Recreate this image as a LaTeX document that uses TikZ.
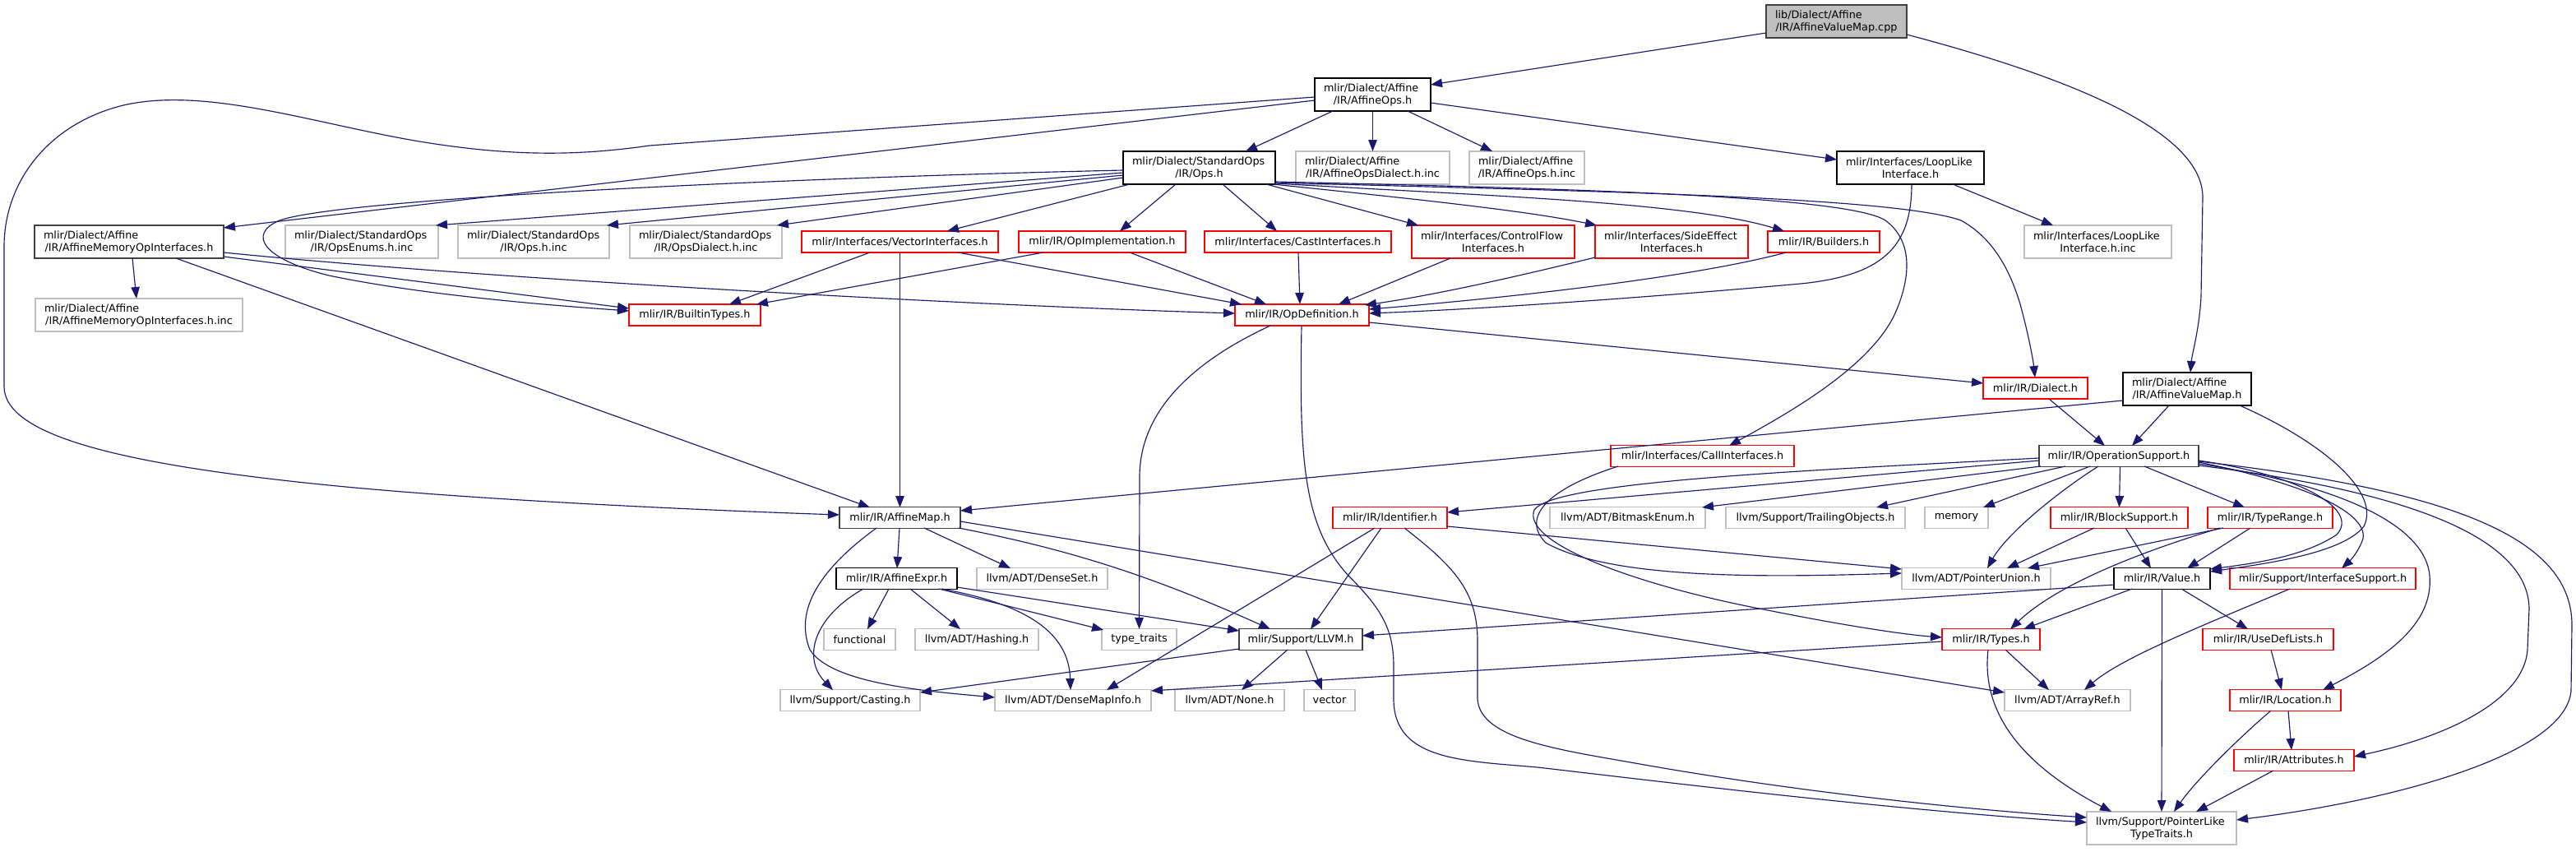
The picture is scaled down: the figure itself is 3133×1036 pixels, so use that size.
\documentclass[tikz,border=0pt]{standalone}
\usepackage{fontspec}
\setmainfont{DejaVu Sans}
\usetikzlibrary{arrows.meta,calc}
\definecolor{edgeblue}{HTML}{191970}
\definecolor{greyS}{HTML}{BFBFBF}
\definecolor{darkS}{HTML}{404040}
\definecolor{redS}{HTML}{FF0000}
\newcommand\twol[3]{\makebox[#3pt][l]{#1}\\\makebox[#3pt][c]{#2}}
\begin{document}
\begin{tikzpicture}[x=1pt,y=-1pt,
  box/.style={draw, line width=1.2pt, inner sep=0pt, fill=white, text=black, align=center, font=\fontsize{12.8}{15}\selectfont},
  one/.style={box, minimum height=26pt, minimum width=#1pt},
  two/.style={box, minimum height=40pt, minimum width=#1pt},
  blk/.style={draw=black},
  drk/.style={draw=darkS},
  trn/.style={draw=redS},
  ext/.style={draw=greyS},
  rootS/.style={draw=darkS, fill=greyS},
  conn/.style={draw=edgeblue, line width=1.15pt, -{Triangle[length=14pt,width=10.5pt]}},
]
\fill[white] (0,0) rectangle (3133,1036);
\path[use as bounding box] (0,0) rectangle (3133,1036);

% ---------- nodes ----------
\node[two=171, rootS] (root) at (2233.5,26) {\twol{lib/Dialect/Affine}{/IR/AffineValueMap.cpp}{149}};
\node[two=141, blk] (affops) at (1669.5,115) {\twol{mlir/Dialect/Affine}{/IR/AffineOps.h}{119}};
\node[two=185, blk] (stdops) at (1458.5,204) {\twol{mlir/Dialect/StandardOps}{/IR/Ops.h}{163}};
\node[two=187, ext] (affopsdinc) at (1669.5,204) {\twol{mlir/Dialect/Affine}{/IR/AffineOpsDialect.h.inc}{165}};
\node[two=140, ext] (affopsinc) at (1857,204) {\twol{mlir/Dialect/Affine}{/IR/AffineOps.h.inc}{118}};
\node[two=179, blk] (looplike) at (2323.5,204) {\twol{mlir/Interfaces/LoopLike}{Interface.h}{157}};
\node[two=179, ext] (looplikeinc) at (2551.5,294) {\twol{mlir/Interfaces/LoopLike}{Interface.h.inc}{157}};
\node[two=230, drk] (affmem) at (157,294) {\twol{mlir/Dialect/Affine}{/IR/AffineMemoryOpInterfaces.h}{208}};
\node[two=186, ext] (opsenums) at (440,294) {\twol{mlir/Dialect/StandardOps}{/IR/OpsEnums.h.inc}{164}};
\node[two=184, ext] (opshinc) at (649,294) {\twol{mlir/Dialect/StandardOps}{/IR/Ops.h.inc}{162}};
\node[two=185, ext] (opsdial) at (858.5,294) {\twol{mlir/Dialect/StandardOps}{/IR/OpsDialect.h.inc}{163}};
\node[one=239, trn] (vecif) at (1094.5,294) {mlir/Interfaces/VectorInterfaces.h};
\node[one=203, trn] (opimpl) at (1340.5,294) {mlir/IR/OpImplementation.h};
\node[one=227, trn] (castif) at (1578.5,294) {mlir/Interfaces/CastInterfaces.h};
\node[two=198, trn] (cfif) at (1816,294) {\twol{mlir/Interfaces/ControlFlow}{Interfaces.h}{176}};
\node[two=186, trn] (seif) at (2033,294) {\twol{mlir/Interfaces/SideEffect}{Interfaces.h}{164}};
\node[one=136, trn] (builders) at (2218,294) {mlir/IR/Builders.h};
\node[two=252, ext] (affmeminc) at (169,383) {\twol{mlir/Dialect/Affine}{/IR/AffineMemoryOpInterfaces.h.inc}{230}};
\node[one=160, trn] (builtin) at (845,383) {mlir/IR/BuiltinTypes.h};
\node[one=163, trn] (opdef) at (1583.5,383) {mlir/IR/OpDefinition.h};
\node[one=127, trn] (dialect) at (2475.5,472) {mlir/IR/Dialect.h};
\node[two=156, blk] (affvm) at (2660,473) {\twol{mlir/Dialect/Affine}{/IR/AffineValueMap.h}{134}};
\node[one=223, trn] (callif) at (2070.5,554.5) {mlir/Interfaces/CallInterfaces.h};
\node[one=194, drk] (opsupp) at (2577,554.5) {mlir/IR/OperationSupport.h};
\node[one=147, drk] (affmap) at (1094.5,629.5) {mlir/IR/AffineMap.h};
\node[one=139, trn] (ident) at (1690.5,629.5) {mlir/IR/Identifier.h};
\node[one=189, ext] (bitmask) at (1979.5,629.5) {llvm/ADT/BitmaskEnum.h};
\node[one=218, ext] (trailing) at (2208,629.5) {llvm/Support/TrailingObjects.h};
\node[one=77, ext] (memory) at (2379.5,629.5) {memory};
\node[one=167, trn] (blocksupp) at (2577.5,629.5) {mlir/IR/BlockSupport.h};
\node[one=152, trn] (typerange) at (2761,629.5) {mlir/IR/TypeRange.h};
\node[one=147, blk] (affexpr) at (1090.5,703.5) {mlir/IR/AffineExpr.h};
\node[one=159, ext] (denseset) at (1267.5,703.5) {llvm/ADT/DenseSet.h};
\node[one=181, ext] (ptrunion) at (2403.5,703.5) {llvm/ADT/PointerUnion.h};
\node[one=117, blk] (value) at (2629.5,703.5) {mlir/IR/Value.h};
\node[one=226, trn] (ifsupp) at (2825,703.5) {mlir/Support/InterfaceSupport.h};
\node[one=87, ext] (functional) at (1045.5,777.5) {functional};
\node[one=150, ext] (hashing) at (1188,777.5) {llvm/ADT/Hashing.h};
\node[one=91, ext] (typetraits) at (1385.5,777.5) {type\_traits};
\node[one=150, drk] (llvmh) at (1582,777.5) {mlir/Support/LLVM.h};
\node[one=119, trn] (types) at (2421.5,777.5) {mlir/IR/Types.h};
\node[one=159, trn] (usedef) at (2758.5,777.5) {mlir/IR/UseDefLists.h};
\node[one=170, ext] (casting) at (1034,851.5) {llvm/Support/Casting.h};
\node[one=190, ext] (densemap) at (1305,851.5) {llvm/ADT/DenseMapInfo.h};
\node[one=133, ext] (none) at (1495.5,851.5) {llvm/ADT/None.h};
\node[one=62, ext] (vector) at (1617,851.5) {vector};
\node[one=153, ext] (arrayref) at (2514.5,851.5) {llvm/ADT/ArrayRef.h};
\node[one=135, trn] (location) at (2779.5,851.5) {mlir/IR/Location.h};
\node[one=146, trn] (attrs) at (2790,924.5) {mlir/IR/Attributes.h};
\node[two=182, ext] (ptrlike) at (2629,1007) {\twol{llvm/Support/PointerLike}{TypeTraits.h}{160}};

% ---------- connectors ----------
\draw[conn] ($(root)+(-85.5,14)$) -- ($(affops)+(70.5,-12)$);
\draw[conn] ($(root)+(85.5,16)$) .. controls (2520,95) and (2679,160) .. (2679,240) -- (2677,360) .. controls (2675,400) and (2666,430) .. ($(affvm)+(4,-20)$);

\draw[conn] ($(affops)+(-48.5,20)$) -- ($(stdops)+(56.5,-20)$);
\draw[conn] ($(affops)+(0,20)$) -- ($(affopsdinc)+(0,-20)$);
\draw[conn] ($(affops)+(42.5,20)$) -- ($(affopsinc)+(-42,-20)$);
\draw[conn] ($(affops)+(70.5,10)$) -- ($(looplike)+(-89.5,-10)$);
\draw[conn] ($(affops)+(-70.5,7)$) -- ($(affmem)+(115,-17)$);
\draw[conn] ($(affops)+(-70.5,3)$) -- (790,177) .. controls (700,190) and (620,190) .. (510,172) .. controls (380,150) and (250,105) .. (150,128) .. controls (60,150) and (5,220) .. (5,300) -- (5,470) .. controls (5,530) and (150,565) .. (400,590) .. controls (600,610) and (900,622) .. ($(affmap)+(-73.5,-3.5)$);

\draw[conn] ($(stdops)+(-92.5,6)$) -- ($(opsenums)+(90,-20)$);
\draw[conn] ($(stdops)+(-92.5,9)$) -- ($(opshinc)+(89,-20)$);
\draw[conn] ($(stdops)+(-92.5,12)$) -- ($(opsdial)+(86.5,-20)$);
\draw[conn] ($(stdops)+(-92.5,3)$) .. controls (1000,215) and (420,240) .. (340,268) .. controls (300,285) and (320,315) .. (400,335) .. controls (520,360) and (680,372) .. ($(builtin)+(-80,-5)$);
\draw[conn] ($(stdops)+(-84.5,20)$) -- ($(vecif)+(57.5,-13)$);
\draw[conn] ($(stdops)+(-28.5,20)$) -- ($(opimpl)+(21.5,-13)$);
\draw[conn] ($(stdops)+(28.5,20)$) -- ($(castif)+(-25.5,-13)$);
\draw[conn] ($(stdops)+(81.5,20)$) -- ($(cfif)+(-91,-20)$);
\draw[conn] ($(stdops)+(90,20)$) .. controls (1700,240) and (1850,255) .. ($(seif)+(-91,-20)$);
\draw[conn] ($(stdops)+(92.5,19)$) .. controls (1800,238) and (2050,245) .. ($(builders)+(-48,-13)$);
\draw[conn] ($(stdops)+(92.5,18)$) .. controls (1900,232) and (2300,238) .. (2385,268) .. controls (2425,290) and (2445,330) .. (2457,370) .. controls (2468,410) and (2473,440) .. ($(dialect)+(-0.5,-13)$);
\draw[conn] ($(stdops)+(92.5,17)$) .. controls (1950,230) and (2250,240) .. (2293,268) .. controls (2330,295) and (2322,345) .. (2303,385) .. controls (2270,450) and (2170,505) .. ($(callif)+(32.5,-12.5)$);

\draw[conn] ($(affmem)+(115,18)$) -- ($(builtin)+(-80,-8)$);
\draw[conn] ($(affmem)+(115,13)$) .. controls (600,340) and (1200,372) .. ($(opdef)+(-81.5,-2)$);
\draw[conn] ($(affmem)+(4,20)$) -- ($(affmeminc)+(-3,-20)$);
\draw[conn] ($(affmem)+(57,20)$) -- ($(affmap)+(-36.5,-12.5)$);

\draw[conn] ($(looplike)+(51.5,20)$) -- ($(looplikeinc)+(-54.5,-20)$);
\draw[conn] ($(looplike)+(1.5,20)$) .. controls (2325,300) and (2290,335) .. (2190,345) .. controls (2000,362) and (1800,376) .. ($(opdef)+(81.5,-2)$);
\draw[conn] ($(castif)+(0.5,13)$) -- ($(opdef)+(-2.5,-13)$);
\draw[conn] ($(cfif)+(-52,20)$) -- ($(opdef)+(44.5,-13)$);
\draw[conn] ($(seif)+(-93,19)$) .. controls (1850,335) and (1750,358) .. ($(opdef)+(76.5,-12)$);
\draw[conn] ($(builders)+(-46,13)$) .. controls (2050,340) and (1800,365) .. ($(opdef)+(81.5,-7)$);

\draw[conn] ($(vecif)+(-36.5,13)$) -- ($(builtin)+(42,-13)$);
\draw[conn] ($(vecif)+(0,13)$) -- ($(affmap)+(0,-12.5)$);
\draw[conn] ($(vecif)+(70.5,13)$) -- ($(opdef)+(-73.5,-13)$);
\draw[conn] ($(opimpl)+(-71.5,13)$) -- ($(builtin)+(75,-13)$);
\draw[conn] ($(opimpl)+(33.5,13)$) -- ($(opdef)+(-43.5,-13)$);

\draw[conn] ($(opdef)+(-38.5,13)$) .. controls (1450,440) and (1386,500) .. (1386,580) -- ($(typetraits)+(0,-12.5)$);
\draw[conn] ($(opdef)+(81.5,9)$) -- ($(dialect)+(-63.5,-6)$);
\draw[conn] ($(opdef)+(-0.5,13)$) .. controls (1580,560) and (1585,640) .. (1640,700) .. controls (1680,740) and (1695,765) .. (1695,810) -- (1695,850) .. controls (1695,925) and (1780,925) .. (1870,933) .. controls (2000,948) and (2300,985) .. ($(ptrlike)+(-91,-7)$);

\draw[conn] ($(dialect)+(16.5,13)$) -- ($(opsupp)+(-17,-12.5)$);
\draw[conn] ($(affvm)+(-22,20)$) -- ($(opsupp)+(16,-12.5)$);
\draw[conn] ($(affvm)+(-78,14)$) -- ($(affmap)+(73.5,-8.5)$);
\draw[conn] ($(affvm)+(64,20)$) .. controls (2830,540) and (2895,600) .. (2875,640) .. controls (2850,672) and (2760,685) .. ($(value)+(58.5,-8.5)$);

\draw[conn] ($(opsupp)+(-97,5.5)$) -- ($(ident)+(69.5,-6.5)$);
\draw[conn] ($(opsupp)+(-95,12.5)$) -- ($(bitmask)+(90.5,-12.5)$);
\draw[conn] ($(opsupp)+(-65,12.5)$) -- ($(trailing)+(74,-12.5)$);
\draw[conn] ($(opsupp)+(-35,12.5)$) -- ($(memory)+(32.5,-12.5)$);
\draw[conn] ($(opsupp)+(-25,12.5)$) .. controls (2500,600) and (2440,650) .. ($(ptrunion)+(13.5,-12.5)$);
\draw[conn] ($(opsupp)+(1.5,12.5)$) -- ($(blocksupp)+(0,-12.5)$);
\draw[conn] ($(opsupp)+(31,12.5)$) -- ($(typerange)+(-31,-12.5)$);
\draw[conn] ($(opsupp)+(97,5.5)$) .. controls (2800,578) and (2870,620) .. (2842,650) .. controls (2805,675) and (2750,684) .. ($(value)+(58.5,-11.5)$);
\draw[conn] ($(opsupp)+(97,7.5)$) .. controls (2790,585) and (2880,620) .. (2874,655) .. controls (2868,672) and (2858,682) .. ($(ifsupp)+(23,-12.5)$);
\draw[conn] ($(opsupp)+(97,9.5)$) .. controls (2850,590) and (2950,640) .. (2955,700) .. controls (2960,760) and (2900,800) .. ($(location)+(45.5,-12.5)$);
\draw[conn] ($(opsupp)+(97,11.5)$) .. controls (2950,600) and (3075,660) .. (3076,740) -- (3074,790) .. controls (3070,850) and (2980,895) .. ($(attrs)+(73,-4.5)$);
\draw[conn] ($(opsupp)+(97,6.5)$) .. controls (3000,598) and (3128,660) .. (3128,760) -- (3127,840) .. controls (3120,920) and (2900,975) .. ($(ptrlike)+(91,-10)$);
\draw[conn] ($(opsupp)+(-97,2.5)$) .. controls (2200,572) and (1890,585) .. (1866,620) .. controls (1850,660) and (1990,712) .. (2150,742) .. controls (2250,762) and (2320,772) .. ($(types)+(-59.5,-2.5)$);

\draw[conn] ($(callif)+(-102.5,12.5)$) .. controls (1880,595) and (1850,630) .. (1880,660) .. controls (1960,705) and (2150,702) .. ($(ptrunion)+(-90.5,-6.5)$);

\draw[conn] ($(ident)+(69.5,10.5)$) -- ($(ptrunion)+(-90.5,-11.5)$);
\draw[conn] ($(ident)+(-10.5,12.5)$) -- ($(llvmh)+(12,-12.5)$);
\draw[conn] ($(ident)+(-18.5,12.5)$) -- ($(densemap)+(41,-12.5)$);
\draw[conn] ($(ident)+(17.5,12.5)$) .. controls (1770,690) and (1797,720) .. (1797,780) -- (1797,850) .. controls (1800,900) and (1900,912) .. (2000,930) .. controls (2200,965) and (2400,985) .. ($(ptrlike)+(-91,-13)$);

\draw[conn] ($(affmap)+(-0.5,12.5)$) -- ($(affexpr)+(0.5,-12.5)$);
\draw[conn] ($(affmap)+(29.5,12.5)$) -- ($(denseset)+(-38.5,-12.5)$);
\draw[conn] ($(affmap)+(71.5,12.5)$) .. controls (1300,668) and (1400,700) .. ($(llvmh)+(-37,-12.5)$);
\draw[conn] ($(affmap)+(73.5,4.5)$) -- ($(arrayref)+(-76.5,-9.5)$);
\draw[conn] ($(affmap)+(-28.5,12.5)$) .. controls (1000,690) and (965,740) .. (985,790) .. controls (1010,830) and (1120,840) .. ($(densemap)+(-95,-3.5)$);

\draw[conn] ($(affexpr)+(-9.5,12.5)$) -- ($(functional)+(9.5,-12.5)$);
\draw[conn] ($(affexpr)+(16.5,12.5)$) -- ($(hashing)+(-20,-12.5)$);
\draw[conn] ($(affexpr)+(51.5,12.5)$) -- ($(typetraits)+(-43.5,-11.5)$);
\draw[conn] ($(affexpr)+(73.5,10.5)$) -- ($(llvmh)+(-75,-10.5)$);
\draw[conn] ($(affexpr)+(54.5,12.5)$) .. controls (1250,735) and (1300,770) .. ($(densemap)+(-3,-12.5)$);
\draw[conn] ($(affexpr)+(-40.5,12.5)$) .. controls (990,750) and (975,800) .. ($(casting)+(-21,-12.5)$);

\draw[conn] ($(llvmh)+(-75,11.5)$) -- ($(casting)+(85,-9.5)$);
\draw[conn] ($(llvmh)+(-16,12.5)$) -- ($(none)+(14.5,-12.5)$);
\draw[conn] ($(llvmh)+(6,12.5)$) -- ($(vector)+(-9,-12.5)$);

\draw[conn] ($(value)+(-58.5,7.5)$) -- ($(llvmh)+(75,-4.5)$);
\draw[conn] ($(value)+(-36.5,12.5)$) -- ($(types)+(39.5,-12.5)$);
\draw[conn] ($(value)+(0,12.5)$) -- ($(ptrlike)+(0,-20)$);
\draw[conn] ($(value)+(23.5,12.5)$) -- ($(usedef)+(-24.5,-12.5)$);

\draw[conn] ($(typerange)+(-57,12.5)$) -- ($(ptrunion)+(62.5,-12.5)$);
\draw[conn] ($(typerange)+(-24,12.5)$) -- ($(value)+(30.5,-12.5)$);
\draw[conn] ($(typerange)+(-61,12.5)$) .. controls (2600,672) and (2500,712) .. ($(types)+(23.5,-12.5)$);
\draw[conn] ($(blocksupp)+(-30.5,12.5)$) -- ($(ptrunion)+(37.5,-12.5)$);
\draw[conn] ($(blocksupp)+(7.5,12.5)$) -- ($(value)+(-13.5,-12.5)$);

\draw[conn] ($(types)+(17.5,12.5)$) -- ($(arrayref)+(-22.5,-12.5)$);
\draw[conn] ($(types)+(-3.5,12.5)$) .. controls (2410,860) and (2450,925) .. ($(ptrlike)+(-61,-20)$);
\draw[conn] ($(types)+(-59.5,2.5)$) -- ($(densemap)+(95,-11.5)$);
\draw[conn] ($(ifsupp)+(-40,12.5)$) .. controls (2680,760) and (2580,800) .. ($(arrayref)+(20.5,-12.5)$);
\draw[conn] ($(usedef)+(3.5,12.5)$) -- ($(location)+(-4.5,-12.5)$);
\draw[conn] ($(location)+(3.5,12.5)$) -- ($(attrs)+(-3,-12.5)$);
\draw[conn] ($(location)+(-17.5,12.5)$) .. controls (2720,900) and (2670,950) .. ($(ptrlike)+(15,-20)$);
\draw[conn] ($(attrs)+(-25,12.5)$) -- ($(ptrlike)+(42,-20)$);
\end{tikzpicture}
\end{document}
